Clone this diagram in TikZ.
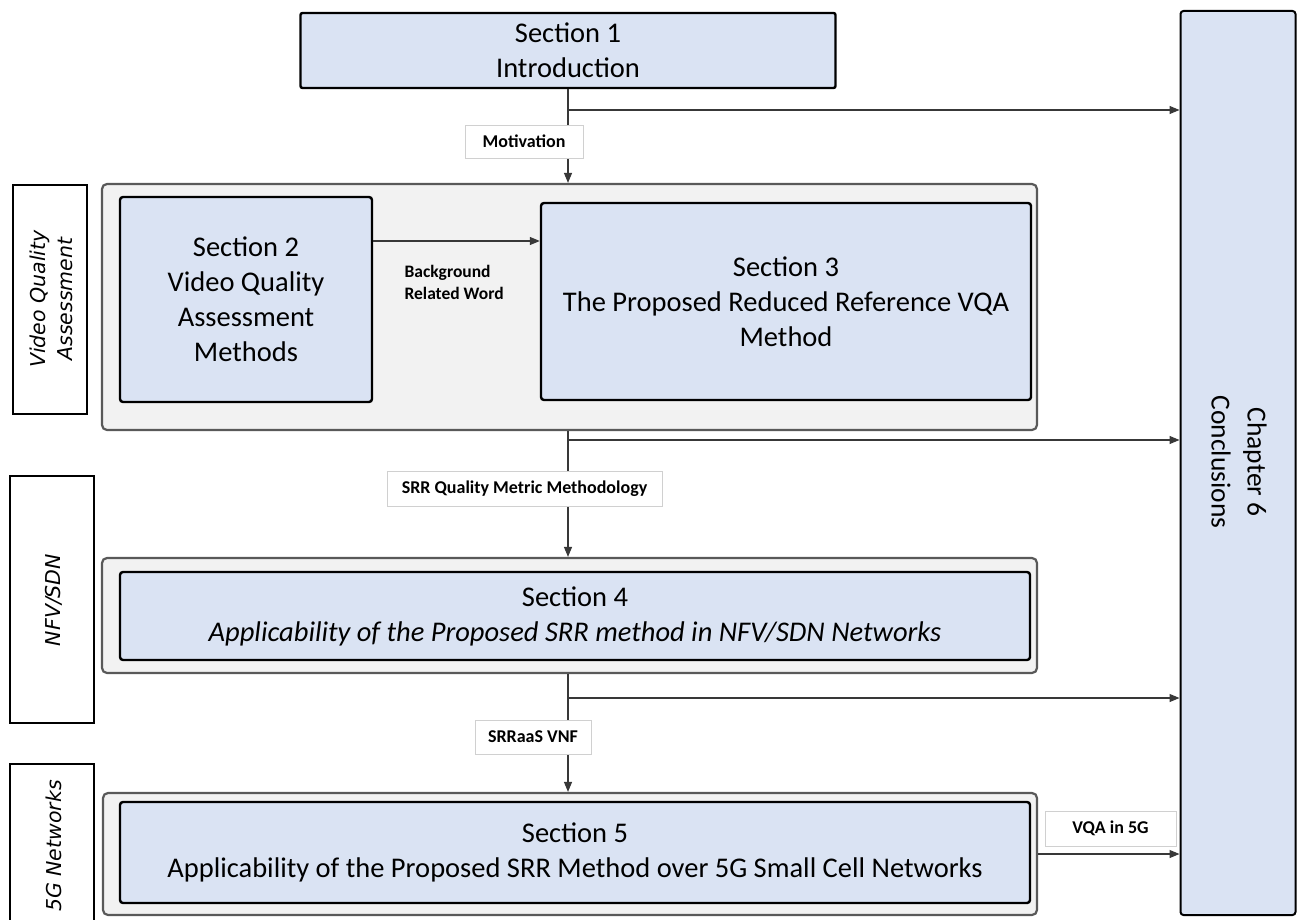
\documentclass[tikz,border=0pt]{standalone}
\usepackage{fontspec}
\setmainfont{Carlito}
\newfontfamily\sidefont{DejaVu Sans}[ItalicFont={DejaVu Sans Oblique}]
\usetikzlibrary{arrows.meta}

\definecolor{boxblue}{HTML}{DAE3F3}
\definecolor{groupgray}{HTML}{F2F2F2}
\definecolor{groupedge}{HTML}{595959}
\definecolor{tagedge}{HTML}{D0D0D0}
\definecolor{wire}{HTML}{383838}

\tikzset{
  secbox/.style={draw=black, line width=2.4pt, fill=boxblue, rounded corners=3pt,
    inner sep=0pt, align=center, font=\fontsize{28.5}{35}\selectfont},
  groupbox/.style={draw=groupedge, line width=2.2pt, fill=groupgray,
    rounded corners=5pt, inner sep=0pt},
  sidebox/.style={draw=black, line width=1.8pt, fill=white, inner sep=0pt},
  sidetext/.style={rotate=90, align=center,
    font=\sidefont\itshape\fontsize{20.5}{27}\selectfont},
  tag/.style={draw=tagedge, line width=0.8pt, fill=white, inner sep=0pt,
    font=\bfseries\fontsize{18}{21}\selectfont},
  flow/.style={draw=wire, line width=1.2pt, -{Triangle[length=10pt,width=8pt]}},
}

\begin{document}
\begin{tikzpicture}[x=1pt, y=-1pt]
  \useasboundingbox (0,0) rectangle (1301,920);
  \clip (0,0) rectangle (1301,920);

  % chapter column on the right
  \node[secbox, line width=2pt, minimum width=115pt, minimum height=904pt] (ch6) at (1238,463) {};
  \node[rotate=-90, align=center, font=\fontsize{27.5}{36}\selectfont] (ch6t) at (1239,462) {Chapter 6\\Conclusions};

  % introduction
  \node[secbox, rounded corners=2pt, minimum width=535pt, minimum height=75pt] (sec1) at (568,50.5)
    {Section 1\\Introduction};

  % video quality assessment group
  \node[groupbox, minimum width=935pt, minimum height=246pt] (vqa) at (569.5,307) {};
  \node[secbox, minimum width=252pt, minimum height=205pt] (sec2) at (246,299.5)
    {Section 2\\Video Quality\\Assessment\\Methods};
  \node[secbox, minimum width=490pt, minimum height=197pt] (sec3) at (786,301.5)
    {Section 3\\The Proposed Reduced Reference VQA\\Method};

  % NFV/SDN group
  \node[groupbox, minimum width=935pt, minimum height=115pt] (c4) at (569.5,615.5) {};
  \node[secbox, minimum width=910pt, minimum height=88pt] (sec4) at (575,616)
    {Section 4\\\textit{Applicability of the Proposed SRR method in NFV/SDN Networks}};

  % 5G group
  \node[groupbox, minimum width=934pt, minimum height=122pt] (c5) at (570,854) {};
  \node[secbox, minimum width=910pt, minimum height=101pt] (sec5) at (575,852.5)
    {Section 5\\Applicability of the Proposed SRR Method over 5G Small Cell Networks};

  % side captions
  \node[sidebox, minimum width=74pt, minimum height=229pt] (vqaside) at (50,299.5) {};
  \node[sidetext] (vqasidet) at (51,299) {Video Quality\\Assessment};
  \node[sidebox, minimum width=84pt, minimum height=247pt] (nfvside) at (52,599.5) {};
  \node[sidetext] (nfvsidet) at (54,600) {NFV/SDN};
  \node[sidebox, minimum width=84pt, minimum height=170pt] (g5side) at (52,849) {};
  \node[sidetext] (g5sidet) at (54,846) {5G Networks};

  % main spine
  \draw[flow] (sec1.south) -- (sec1.south |- vqa.north);
  \draw[flow] (sec1.south |- vqa.south) -- (sec1.south |- c4.north);
  \draw[flow] (sec1.south |- c4.south) -- (sec1.south |- c5.north);

  % branches to the conclusions
  \coordinate (b1) at (568,110);
  \coordinate (b2) at (568,440);
  \coordinate (b3) at (568,698);
  \draw[flow] (b1) -- (b1 -| ch6.west);
  \draw[flow] (b2) -- (b2 -| ch6.west);
  \draw[flow] (b3) -- (b3 -| ch6.west);
  \draw[flow] (c5.east) -- (c5.east -| ch6.west);

  % section 2 to section 3
  \coordinate (s23) at ([yshift=58.5pt]sec2.east);
  \draw[flow] (s23) -- (s23 -| sec3.west);
  \node[anchor=west, align=left, font=\bfseries\fontsize{17.5}{22}\selectfont] (bg) at (401,282)
    {Background\\Related Word};

  % connector tags
  \node[tag, minimum width=118pt, minimum height=33pt] (tmot) at (524,141.5) {Motivation};
  \node[tag, minimum width=275pt, minimum height=35pt] (tsrr) at (524.5,488.5) {SRR Quality Metric Methodology};
  \node[tag, minimum width=116pt, minimum height=34pt] (tvnf) at (533,737) {SRRaaS VNF};
  \node[tag, minimum width=131pt, minimum height=35pt] (t5g) at (1110.5,828.5) {VQA in 5G};
\end{tikzpicture}
\end{document}
